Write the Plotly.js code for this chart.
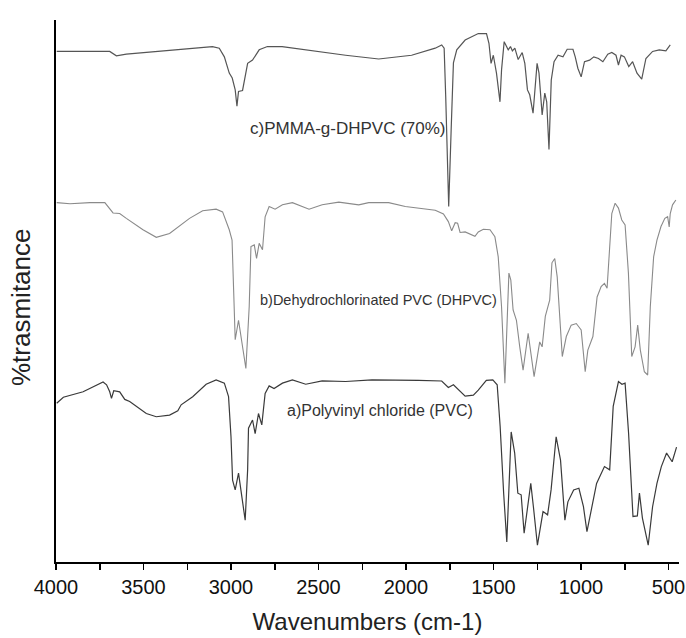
<!DOCTYPE html>
<html>
<head>
<meta charset="utf-8">
<script src="https://cdn.plot.ly/plotly-3.0.1.min.js"></script>
<style>
html,body{margin:0;padding:0;background:#fff;}
#chart{width:686px;height:638px;}
</style>
</head>
<body>
<div id="chart"></div>
<script>
// c) PMMA-g-DHPVC (70%)
var wnC = [3996,3693,3655,3598,3106,3067,3038,3010,2993,2976,2966,2957,2934,2919,2905,2877,2839,2792,2708,2345,2156,1968,1833,1796,1782,1773,1763,1756,1742,1729,1710,1662,1587,1540,1526,1514,1501,1483,1463,1454,1439,1426,1416,1403,1392,1378,1359,1336,1321,1306,1293,1274,1251,1240,1222,1207,1196,1183,1170,1154,1131,1103,1079,1046,1033,1018,999,980,951,927,900,875,847,824,800,786,771,752,727,705,680,653,629,591,553,515,490];
var tC = [94.2,94.2,93.4,93.7,95.1,94.8,93.2,90.2,89.3,87.1,84.1,86.8,87.0,89.5,92.0,92.6,94.5,95.1,95.1,93.5,92.8,93.5,94.8,95.4,94.8,85.8,70.5,65.6,79.7,92.1,94.5,96.3,97.5,97.5,95.7,92.0,93.5,90.2,84.9,90.8,96.0,95.1,94.5,95.1,94.3,94.8,92.7,94.0,92.0,87.1,86.2,82.8,92.0,90.2,82.5,86.5,84.9,76.1,88.9,92.3,93.5,93.2,94.6,94.6,93.2,91.1,89.5,92.3,92.6,93.2,92.9,92.3,93.7,94.0,93.5,91.7,93.5,93.2,91.4,92.3,90.2,89.1,92.9,94.2,94.5,94.3,95.4];

// b) Dehydrochlorinated PVC (DHPVC)
var wnB = [3996,3920,3806,3721,3674,3636,3598,3503,3427,3351,3237,3162,3085,3048,3010,2994,2985,2976,2957,2934,2915,2896,2886,2867,2854,2839,2820,2805,2782,2748,2706,2649,2554,2479,2384,2270,2213,2099,2004,1833,1786,1758,1739,1719,1705,1691,1662,1606,1587,1558,1520,1492,1473,1454,1435,1412,1401,1388,1369,1350,1331,1302,1283,1268,1236,1222,1204,1179,1166,1150,1136,1122,1107,1084,1056,1027,999,976,961,932,908,885,866,851,837,824,805,786,767,748,729,710,691,676,661,638,619,604,585,566,543,521,505,496,490,477,458];
var tB = [66.3,66.1,66.3,66.3,64.4,64.3,63.4,61.3,59.9,60.6,63.4,64.8,65.1,64.6,61.3,59.4,50.2,41.0,44.6,39.7,35.7,47.1,58.2,58.5,56.0,58.8,57.6,63.7,65.6,65.1,65.9,66.3,65.1,65.9,66.4,65.9,66.3,66.3,65.6,64.9,64.2,62.8,61.1,62.6,62.5,60.8,60.9,60.1,60.9,61.4,61.3,60.0,56.3,47.1,33.0,53.3,52.0,46.5,44.6,39.7,35.4,42.2,37.9,34.2,40.6,39.7,45.3,48.3,55.2,56.0,52.6,45.3,37.9,41.6,43.7,44.0,42.8,35.1,39.1,41.6,48.9,50.8,51.4,50.5,57.6,64.3,66.2,65.3,63.1,62.2,53.3,37.9,39.7,43.7,39.1,35.1,34.5,47.1,56.3,59.4,61.9,63.4,63.7,61.8,64.3,65.9,66.8];

// a) Polyvinyl chloride (PVC)
var wnA = [3996,3958,3845,3731,3711,3693,3683,3670,3636,3607,3579,3484,3427,3351,3304,3285,3219,3142,3085,3038,3014,3000,2991,2976,2957,2943,2930,2919,2905,2900,2877,2862,2843,2824,2805,2782,2754,2706,2649,2573,2479,2345,2194,2042,1928,1796,1758,1729,1691,1662,1615,1587,1541,1504,1479,1462,1442,1424,1399,1379,1361,1342,1325,1287,1272,1249,1217,1191,1171,1142,1117,1092,1075,1042,1012,986,966,941,911,866,836,816,786,766,748,728,703,678,666,649,616,591,566,541,511,479,454];
var tA = [29.3,30.4,31.4,33.2,32.7,31.4,30.2,31.6,31.4,30.0,29.6,27.4,26.8,27.1,27.9,29.0,30.5,32.8,33.6,33.0,30.5,23.1,15.1,13.3,16.4,13.3,10.8,7.7,17.0,24.7,26.2,23.7,27.4,25.3,31.1,32.5,32.0,33.0,33.6,32.8,33.4,33.3,33.6,33.6,33.5,33.4,32.2,32.7,31.4,30.6,30.8,31.7,33.5,33.6,32.7,25.0,12.7,3.7,24.0,20.1,12.7,12.4,5.3,14.5,10.2,3.1,9.3,8.7,13.3,23.1,18.8,7.7,11.1,13.3,13.6,10.2,5.6,9.6,14.5,17.6,17.0,28.7,33.3,32.8,33.0,23.7,8.4,8.5,12.7,8.1,3.1,10.2,14.5,17.6,20.1,18.5,21.2];

var labels = ["c)PMMA-g-DHPVC (70%)", "b)Dehydrochlorinated PVC (DHPVC)", "a)Polyvinyl chloride (PVC)"];
var labelWn = [2332, 2156, 2150];
var labelT = [79.9, 48.3, 28.0];
var labelSize = [17, 14.5, 16];

var xTickVals = [4000,3500,3000,2500,2000,1500,1000,500];

var fam = "'Liberation Sans', Arial, sans-serif";

var traces = [
  {x: wnC, y: tC, type: 'scatter', mode: 'lines', line: {color: '#555555', width: 1.2}, name: labels[0]},
  {x: wnB, y: tB, type: 'scatter', mode: 'lines', line: {color: '#8a8a8a', width: 1.1}, name: labels[1]},
  {x: wnA, y: tA, type: 'scatter', mode: 'lines', line: {color: '#3a3a3a', width: 1.2}, name: labels[2]}
];

var annotations = labels.map(function(t, i){
  return {x: labelWn[i], y: labelT[i], xref: 'x', yref: 'y', text: t, showarrow: false,
          font: {family: fam, size: labelSize[i], color: '#333'}, xanchor: 'center', yanchor: 'middle'};
});
annotations.push({
  x: -0.055, y: 0.47, xref: 'paper', yref: 'paper', text: '%trasmitance', showarrow: false,
  textangle: -90, font: {family: fam, size: 26, color: '#222'}, xanchor: 'center', yanchor: 'middle'
});

var layout = {
  width: 686, height: 638,
  margin: {l: 56, r: 7, t: 20, b: 76},
  paper_bgcolor: '#fff', plot_bgcolor: '#fff',
  showlegend: false,
  xaxis: {
    range: [4000, 440],
    tickvals: xTickVals,
    ticks: 'outside', ticklen: 6, tickwidth: 1.5, tickcolor: '#000',
    minor: {dtick: 250, tick0: 0, ticks: 'outside', ticklen: 6, tickwidth: 1.5, tickcolor: '#000', showgrid: false},
    showline: true, linewidth: 2, linecolor: '#000',
    showgrid: false, zeroline: false,
    ticklabeloverflow: 'allow',
    tickfont: {family: fam, size: 20, color: '#111'},
    title: {text: 'Wavenumbers (cm-1)', font: {family: fam, size: 24, color: '#222'}, standoff: 16}
  },
  yaxis: {
    range: [0, 100],
    showline: true, linewidth: 2, linecolor: '#000',
    showticklabels: false, ticks: '', showgrid: false, zeroline: false
  },
  annotations: annotations
};

Plotly.newPlot('chart', traces, layout, {displayModeBar: false, staticPlot: true});
</script>
</body>
</html>
